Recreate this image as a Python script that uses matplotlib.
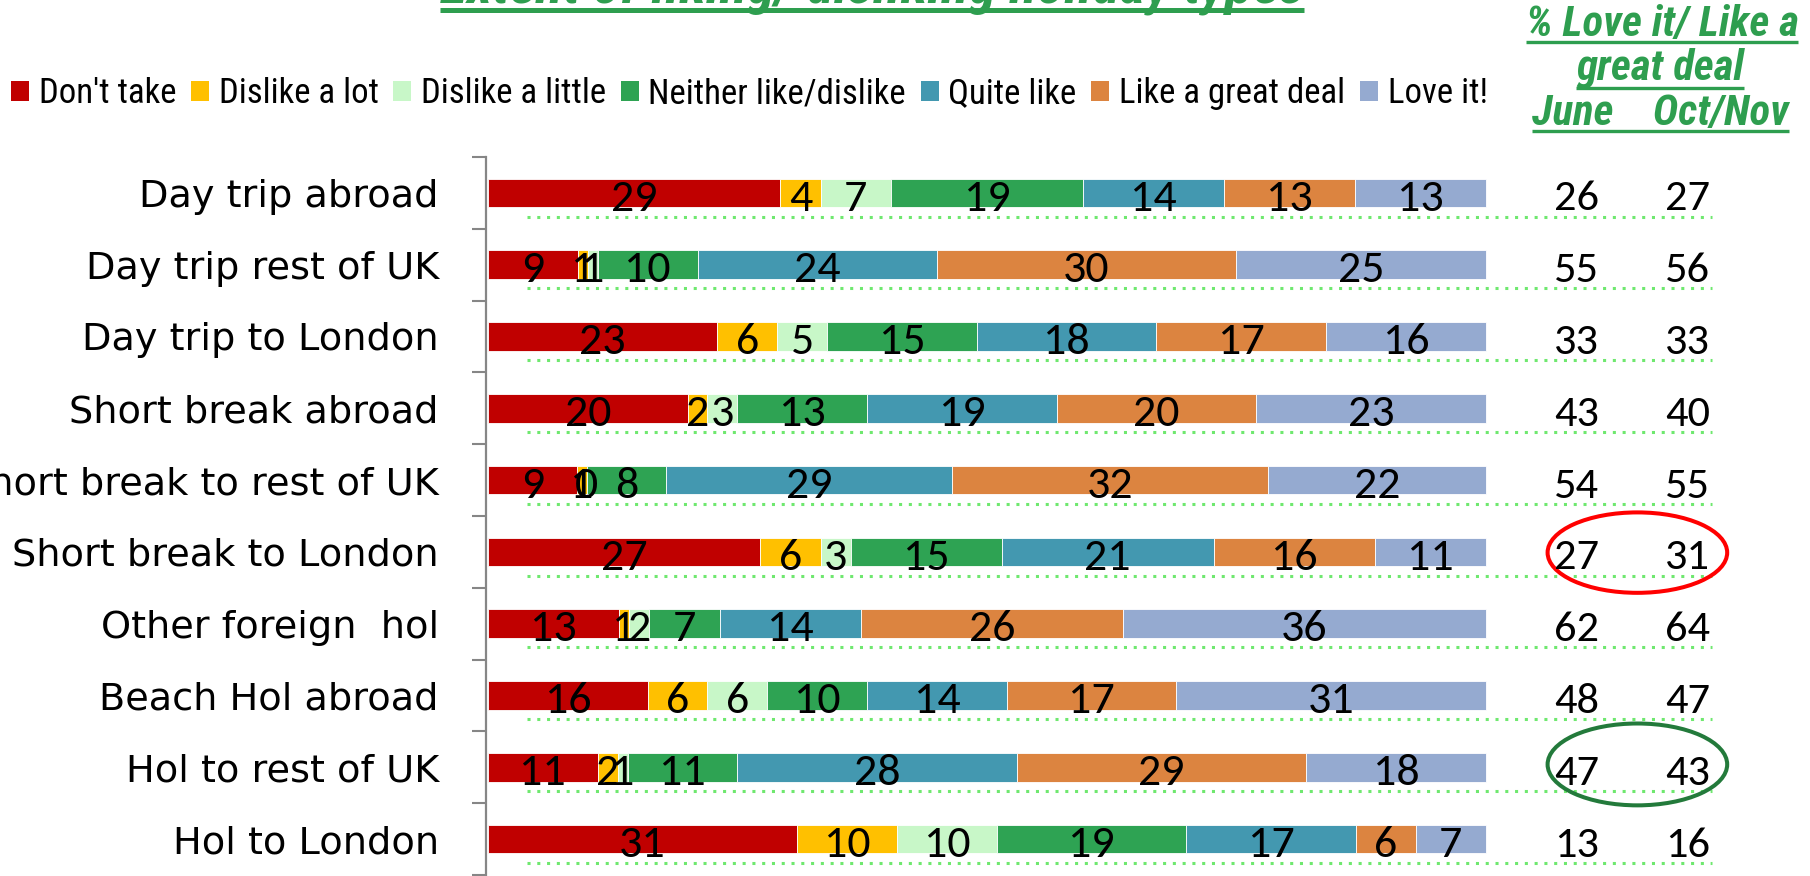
import matplotlib
matplotlib.use("Agg")
import matplotlib.pyplot as plt
import numpy as np
from matplotlib.patches import Patch, Ellipse
from matplotlib.lines import Line2D
from matplotlib.font_manager import FontProperties
from matplotlib.transforms import IdentityTransform

categories = ["Day trip abroad", "Day trip rest of UK", "Day trip to London",
              "Short break abroad", "Short break to rest of UK", "Short break to London",
              "Other foreign  hol", "Beach Hol abroad", "Hol to rest of UK", "Hol to London"]
series = ["Don't take", "Dislike a lot", "Dislike a little", "Neither like/dislike",
          "Quite like", "Like a great deal", "Love it!"]

dont_take = [29, 9, 23, 20, 9, 27, 13, 16, 11, 31]
dislike_lot = [4, 1, 6, 2, 1, 6, 1, 6, 2, 10]
dislike_little = [7, 1, 5, 3, 0, 3, 2, 6, 1, 10]
neither = [19, 10, 15, 13, 8, 15, 7, 10, 11, 19]
quite_like = [14, 24, 18, 19, 29, 21, 14, 14, 28, 17]
like_great = [13, 30, 17, 20, 32, 16, 26, 17, 29, 6]
love_it = [13, 25, 16, 23, 22, 11, 36, 31, 18, 7]

june = [26, 55, 33, 43, 54, 27, 62, 48, 47, 13]
oct_nov = [27, 56, 33, 40, 55, 31, 64, 47, 43, 16]

colors = ["#C00000", "#FFC000", "#C8F7C8", "#2EA353", "#4398B0", "#DC8440", "#95AAD0"]
GREEN = "#2E9E4F"
COND = ["Roboto Condensed", "DejaVu Sans"]
CALI = ["Carlito", "DejaVu Sans"]

fig = plt.figure(figsize=(18.1, 8.76), dpi=100)
# axes spans px 486..1810 horizontally, 157..875 vertically
ax = fig.add_axes([486 / 1810, 1 / 876, 1 - 486 / 1810, 718 / 876])

data = np.array([dont_take, dislike_lot, dislike_little, neither, quite_like, like_great, love_it], float)
widths = data / data.sum(axis=0) * 100
lefts = np.vstack([np.zeros(len(categories)), np.cumsum(widths, axis=0)[:-1]])
y = np.arange(len(categories))

# dotted guide lines of the right-hand table
for yy in np.concatenate([[-0.63], y + 0.33]):
    ax.plot([3.9, 122.7], [yy, yy], color="#6FE86F", lw=2.2, ls=(0, (1, 2.2)),
            dash_capstyle="butt", zorder=0)

for i in range(len(series)):
    ax.barh(y, widths[i], left=lefts[i], height=0.40, color=colors[i],
            edgecolor="white", linewidth=0.6, zorder=2)
    for j in range(len(categories)):
        ax.text(lefts[i, j] + widths[i, j] / 2, y[j] + 0.246, "%d" % data[i, j],
                ha="center", va="baseline", fontsize=33, family=CALI, zorder=3)

for j in range(len(categories)):
    ax.text(109.1, y[j] + 0.245, str(june[j]), ha="center", va="baseline", fontsize=32, family=CALI)
    ax.text(120.2, y[j] + 0.245, str(oct_nov[j]), ha="center", va="baseline", fontsize=32, family=CALI)

ax.add_patch(Ellipse((115.2, 5.01), 18.0, 1.12, fill=False, ec="#FF0000", lw=2.9))
ax.add_patch(Ellipse((115.2, 7.96), 18.0, 1.14, fill=False, ec="#237A3B", lw=2.9))

ax.set_xlim(-0.2, 132.5)
ax.set_ylim(9.5, -0.5)
ax.set_xticks([])
ax.set_yticks(np.arange(-0.5, 10, 1))
ax.set_yticks(y, labels=categories, minor=True)
ax.tick_params(axis="y", which="major", length=10, width=1.5, color="#868686", labelleft=False)
ax.tick_params(axis="y", which="minor", length=0, pad=34, labelsize=27.5)
for lab in ax.get_yticklabels(minor=True):
    lab.set_family("DejaVu Sans")
for s in ["top", "right", "bottom"]:
    ax.spines[s].set_visible(False)
ax.spines["left"].set_color("#868686")
ax.spines["left"].set_linewidth(1.6)

handles = [Patch(facecolor=c, edgecolor="none") for c in colors]
fig.legend(handles, series, loc="center left", bbox_to_anchor=(11 / 1810, 1 - 93.5 / 876),
           ncol=7, frameon=False, prop=FontProperties(family=COND, size=25),
           handlelength=0.52, handleheight=0.52, handletextpad=0.28,
           columnspacing=0.42, borderpad=0, borderaxespad=0)

# headings (green, bold italic, underlined)
heads = [
    (872, 3, 9.5, "Extent of liking/ disliking holiday types", 41, 3.6),
    (1662, 36, 41.5, "% Love it/ Like a", 31, 2.4),
    (1660, 80, 87.5, "great deal", 31, 2.4),
    (1660, 125, 131, "June    Oct/Nov", 31, 2.4),
]
texts = []
for hx, hy, uy, s, fs, ulw in heads:
    t = fig.text(hx / 1810, 1 - hy / 876, s, ha="center", va="baseline", fontsize=fs,
                 fontweight="bold", fontstyle="italic", color=GREEN, family=COND)
    texts.append((t, uy, ulw))

fig.canvas.draw()
renderer = fig.canvas.get_renderer()
for t, uy, ulw in texts:
    bb = t.get_window_extent(renderer)
    fig.add_artist(Line2D([bb.x0, bb.x1], [876 - uy, 876 - uy], transform=IdentityTransform(),
                          color=GREEN, lw=ulw, solid_capstyle="butt"))

fig.savefig("out.png", dpi=100)
